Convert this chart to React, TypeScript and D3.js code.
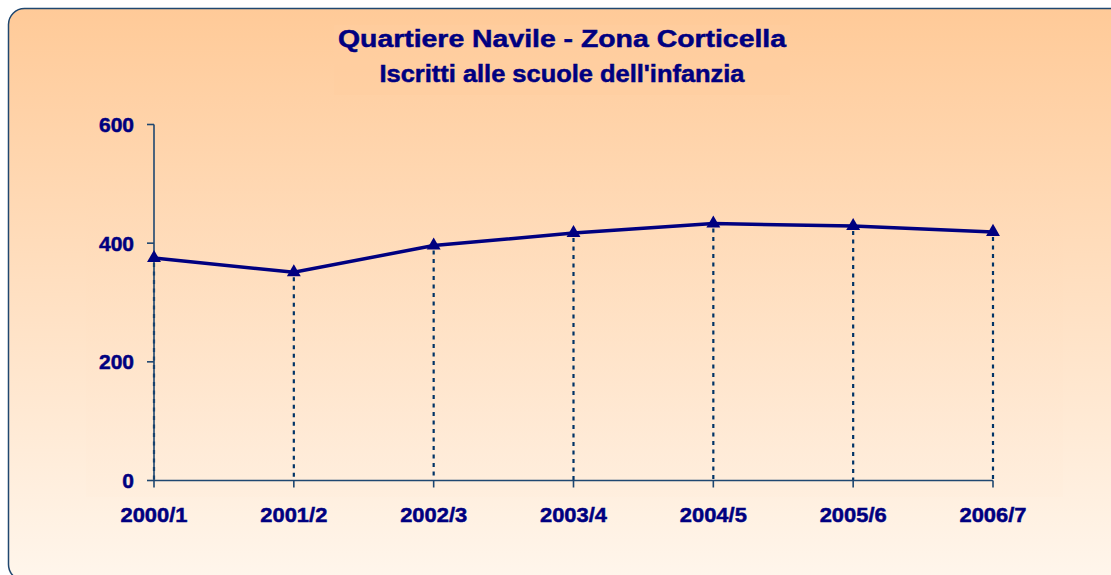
import * as d3 from "d3";
import { useEffect } from "react";

const categories = ["2000/1", "2001/2", "2002/3", "2003/4", "2004/5", "2005/6", "2006/7"];
const iscritti = [375, 351, 396, 417, 433, 429, 419];
const yTicks = [0, 200, 400, 600];

const title = "Quartiere Navile - Zona Corticella";
const subtitle = "Iscritti alle scuole dell'infanzia";

const navy = "#000080";
const axisColor = "#1f4770";
const font = "Arial, 'Liberation Sans', sans-serif";

export default function App() {
  const width = 1111;
  const height = 575;

  useEffect(() => {
    document.body.style.margin = "0";
  }, []);

  const x = d3.scalePoint<string>().domain(categories).range([154, 993]).padding(0);
  const y = d3.scaleLinear().domain([0, 600]).range([480.5, 124.5]);

  const line = d3
    .line<number>()
    .x((_, i) => x(categories[i]) as number)
    .y((d) => y(d));

  const triangle = d3.symbol(d3.symbolTriangle, 84)() as string;

  // shared text styling: bold navy, a thin stroke to give the heavier look of the original
  const txt = { fontFamily: font, fontWeight: "bold", fill: navy, stroke: navy, strokeWidth: 0.5 } as const;

  return (
    <div style={{ position: "absolute", left: 0, top: 0, width, height, overflow: "hidden" }}>
      <svg width={width} height={height} style={{ display: "block" }}>
        <defs>
          <linearGradient id="bg" x1="0" y1="0" x2="0" y2="1">
            <stop offset="0%" stopColor="#ffca98" />
            <stop offset="100%" stopColor="#fff6ec" />
          </linearGradient>
          <linearGradient id="plotbg" x1="0" y1="0" x2="0" y2="1">
            <stop offset="0%" stopColor="#ffd1a6" />
            <stop offset="100%" stopColor="#ffeedd" />
          </linearGradient>
        </defs>

        <rect x={8.5} y={8.5} width={1120} height={572} rx={16} fill="url(#bg)" stroke={axisColor} strokeWidth={1.5} />
        <rect x={86} y={100} width={977} height={397} fill="url(#plotbg)" opacity={0.6} />
        <rect x={334} y={25} width={456} height={70} fill="#ffce9f" opacity={0.5} />

        <text x={562} y={47} textAnchor="middle" fontSize={24.5} {...txt} textLength={448} lengthAdjust="spacingAndGlyphs">
          {title}
        </text>
        <text x={562} y={82} textAnchor="middle" fontSize={23} {...txt} textLength={365} lengthAdjust="spacingAndGlyphs">
          {subtitle}
        </text>

        {/* drop lines */}
        {iscritti.map((v, i) => (
          <line key={`drop-${i}`} x1={x(categories[i])} x2={x(categories[i])} y1={y(v) + 5} y2={y(0)}
            stroke="#003366" strokeWidth={2.2} strokeDasharray="4 4.5" />
        ))}

        {/* y axis */}
        <line x1={154} x2={154} y1={y(600)} y2={y(0)} stroke={axisColor} strokeWidth={1.6} />
        {yTicks.map((t) => (
          <g key={`y-${t}`}>
            <line x1={147} x2={154} y1={y(t)} y2={y(t)} stroke={axisColor} strokeWidth={1.6} />
            <text x={134} y={y(t) + 7.5} textAnchor="end" fontSize={21} {...txt}>
              {t}
            </text>
          </g>
        ))}

        {/* x axis */}
        <line x1={x(categories[0])} x2={x(categories[categories.length - 1])} y1={y(0)} y2={y(0)}
          stroke={axisColor} strokeWidth={1.6} />
        {categories.map((c) => (
          <g key={`x-${c}`}>
            <line x1={x(c)} x2={x(c)} y1={y(0)} y2={y(0) + 7} stroke={axisColor} strokeWidth={1.6} />
            <text x={x(c)} y={522} textAnchor="middle" fontSize={21} {...txt} textLength={67} lengthAdjust="spacingAndGlyphs">
              {c}
            </text>
          </g>
        ))}

        <path d={line(iscritti) as string} fill="none" stroke={navy} strokeWidth={3.5} />
        {iscritti.map((v, i) => (
          <path key={`m-${i}`} d={triangle} transform={`translate(${x(categories[i])},${y(v)})`} fill={navy} />
        ))}
      </svg>
    </div>
  );
}
